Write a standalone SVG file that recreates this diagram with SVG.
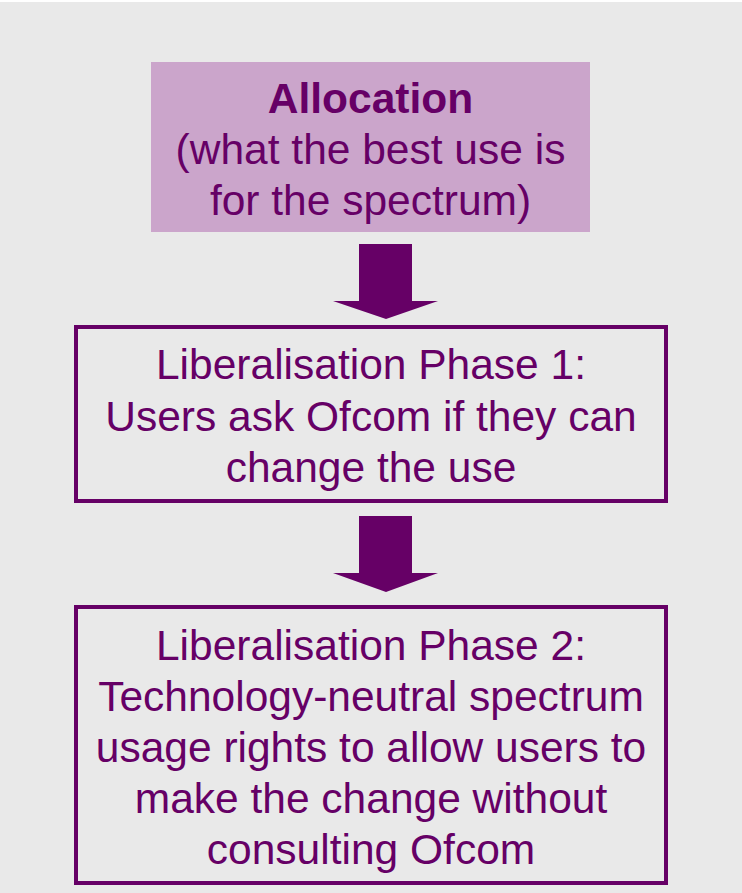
<svg xmlns="http://www.w3.org/2000/svg" width="742" height="893" viewBox="0 0 742 893">
<style>
text{font-family:"Liberation Sans",Arial,sans-serif;font-size:42.5px;fill:#660066;text-anchor:middle}
.b{font-weight:bold}
.box{fill:none;stroke:#660066;stroke-width:4}
.arr{fill:#660066}
</style>
<rect x="0" y="0" width="742" height="893" fill="#ffffff"/>
<rect x="0" y="2" width="742" height="891" fill="#E9E9E9"/>
<g id="allocation">
<rect x="151" y="62" width="439" height="170" fill="#CBA5CB"/>
<text class="b" x="370.5" y="113">Allocation</text>
<text x="370.5" y="164">(what the best use is</text>
<text x="370.5" y="215">for the spectrum)</text>
</g>
<g id="phase1">
<rect class="box" x="76" y="327" width="590" height="174"/>
<text x="371" y="379">Liberalisation Phase 1:</text>
<text x="371" y="431">Users ask Ofcom if they can</text>
<text x="371" y="482">change the use</text>
</g>
<g id="phase2">
<rect class="box" x="76" y="607" width="590" height="276"/>
<text x="371" y="660">Liberalisation Phase 2:</text>
<text x="371" y="711">Technology-neutral spectrum</text>
<text x="371" y="762">usage rights to allow users to</text>
<text x="371" y="813">make the change without</text>
<text x="371" y="864">consulting Ofcom</text>
</g>
<g id="connectors">
<polygon class="arr" points="359,244 412,244 412,301 438,301 386,319 333,301 359,301"/>
<polygon class="arr" points="359,516 412,516 412,573 438,573 386,592 333,573 359,573"/>
</g>
</svg>
